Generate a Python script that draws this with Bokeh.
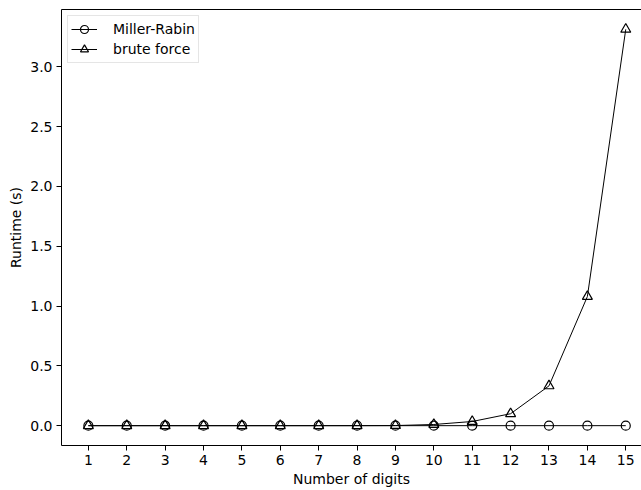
from bokeh.plotting import figure
from bokeh.models import Range1d, FixedTicker, Legend, LegendItem, CustomJSTickFormatter, LinearAxis
from bokeh.embed import file_html
from bokeh.resources import INLINE

digits = [1, 2, 3, 4, 5, 6, 7, 8, 9, 10, 11, 12, 13, 14, 15]
miller_rabin = [0.0001, 0.0001, 0.0001, 0.0001, 0.0001, 0.0001, 0.0001, 0.0001,
                0.0001, 0.0001, 0.0001, 0.0001, 0.0001, 0.0001, 0.0001]
brute_force = [0.0, 0.0, 0.0, 0.0, 0.0, 0.0, 0.0001, 0.0003, 0.001,
               0.01, 0.035, 0.10, 0.333, 1.08, 3.314]
x_ticks = list(range(1, 16))
y_ticks = [0.0, 0.5, 1.0, 1.5, 2.0, 2.5, 3.0]

FONT = "DejaVu Sans"

ymax = max(max(brute_force), max(miller_rabin))
ymin = min(min(brute_force), min(miller_rabin))
ypad = 0.05 * (ymax - ymin)
xpad = 0.05 * (max(digits) - min(digits))

# the reference picture is cut off on the right, just before the right spine
p = figure(width=641, height=490, output_backend="svg", toolbar_location=None,
           x_range=Range1d(min(digits) - xpad, 15.41),
           y_range=Range1d(ymin - ypad, ymax + ypad),
           min_border_left=61, min_border_top=9, min_border_right=0, min_border_bottom=45)
p.grid.visible = False
p.outline_line_color = None
p.background_fill_color = "white"
p.border_fill_color = "white"

l1 = p.line(digits, miller_rabin, line_color="black", line_width=1)
s1 = p.scatter(digits, miller_rabin, marker="circle", size=9, fill_color=None,
               line_color="black", line_width=1.2)
l2 = p.line(digits, brute_force, line_color="black", line_width=1)
s2 = p.scatter(digits, brute_force, marker="triangle", size=10, fill_color=None,
               line_color="black", line_width=1.2)

p.xaxis.ticker = FixedTicker(ticks=x_ticks)
p.yaxis.ticker = FixedTicker(ticks=y_ticks)
p.yaxis.formatter = CustomJSTickFormatter(code="return tick.toFixed(1);")

for ax in (p.xaxis, p.yaxis):
    ax.axis_line_color = "black"
    ax.major_tick_line_color = "black"
    ax.minor_tick_line_color = None
    ax.major_tick_out = 5
    ax.major_tick_in = 0
    ax.major_label_text_font = FONT
    ax.major_label_text_font_size = "14px"
    ax.major_label_text_color = "black"
    ax.axis_label_text_font = FONT
    ax.axis_label_text_font_size = "14px"
    ax.axis_label_text_font_style = "normal"
    ax.axis_label_text_color = "black"
    ax.major_label_standoff = 4

p.xaxis.axis_label = "Number of digits"
p.yaxis.axis_label = "Runtime (s)"
p.xaxis.axis_label_standoff = 3
p.yaxis.axis_label_standoff = 3

top_spine = LinearAxis(ticker=FixedTicker(ticks=[]), axis_line_color="black",
                       major_tick_line_color=None, minor_tick_line_color=None,
                       major_label_text_font_size="0px")
p.add_layout(top_spine, "above")

legend = Legend(items=[LegendItem(label="Miller-Rabin", renderers=[l1, s1]),
                       LegendItem(label="brute force", renderers=[l2, s2])],
                location="top_left")
legend.margin = 6
legend.padding = 3
legend.spacing = 0
legend.label_height = 20
legend.glyph_height = 20
legend.glyph_width = 26
legend.label_standoff = 16
legend.label_text_font = FONT
legend.label_text_font_size = "14px"
legend.label_text_color = "black"
legend.border_line_color = "#cccccc"
legend.border_line_width = 1
legend.background_fill_color = "white"
legend.background_fill_alpha = 0.8
p.add_layout(legend)

open("out.html", "w").write(file_html(p, INLINE))
